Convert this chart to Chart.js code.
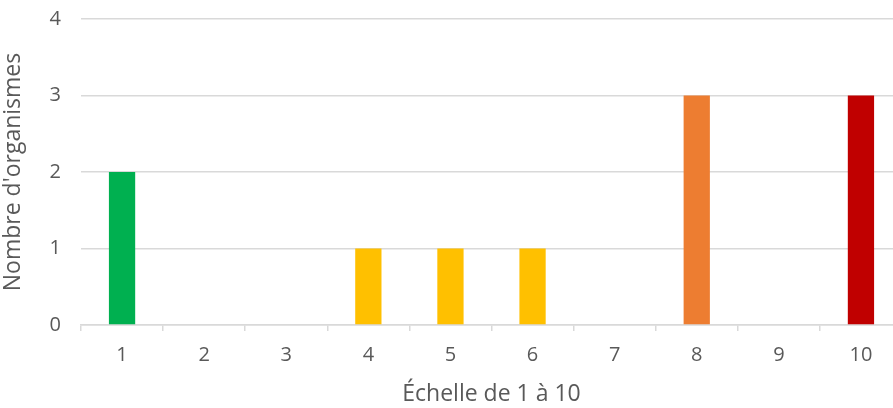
<!DOCTYPE html>
<html>
<head>
<meta charset="utf-8">
<script src="https://cdn.jsdelivr.net/npm/chart.js@4"></script>
<style>
  html, body { margin: 0; padding: 0; background: #fff; overflow: hidden; }
  /* the plot area runs a little past the right edge, as in the reference */
  #wrap { width: 902px; height: 408px; }
</style>
</head>
<body>
<div id="wrap"><canvas id="c"></canvas></div>
<script>
// scale 1..10
const categories = ['1', '2', '3', '4', '5', '6', '7', '8', '9', '10'];
const counts = [2, 0, 0, 1, 1, 1, 0, 3, 0, 3];
const barColors = ['#00B050', '#00B050', '#FFC000', '#FFC000', '#FFC000', '#FFC000', '#FFC000', '#ED7D31', '#C00000', '#C00000'];
const yTicks = [0, 1, 2, 3, 4];

const txt = '#595959';
const gridCol = '#d9d9d9';
const fam = 'Open Sans, Liberation Sans, sans-serif';
const font = { family: fam, size: 20 };
const titleFont = { family: fam, size: 23 };

new Chart(document.getElementById('c'), {
  type: 'bar',
  data: {
    labels: categories,
    datasets: [{
      data: counts,
      backgroundColor: barColors,
      barPercentage: 0.32,
      categoryPercentage: 1
    }]
  },
  options: {
    responsive: true,
    maintainAspectRatio: false,
    animation: false,
    layout: { padding: { top: 19, right: 0, bottom: 0, left: 0 } },
    plugins: { legend: { display: false }, tooltip: { enabled: false } },
    scales: {
      x: {
        offset: true,
        grid: { offset: true, drawOnChartArea: false, drawTicks: true, tickLength: 6, color: gridCol, lineWidth: 1.5 },
        border: { display: true, color: gridCol, width: 1.5 },
        ticks: { color: txt, font: font, padding: 12 },
        title: { display: true, text: 'Échelle de 1 à 10', color: txt, font: titleFont, padding: { top: 5, bottom: 0 } },
        afterFit: s => { s.height = 83; s.paddingLeft = 0; s.paddingRight = 0; }
      },
      y: {
        min: 0,
        max: 4,
        afterBuildTicks: s => { s.ticks = yTicks.map(v => ({ value: v })); },
        grid: { color: gridCol, lineWidth: 1.5, drawTicks: false },
        border: { display: false },
        ticks: { color: txt, font: font, padding: 20 },
        title: { display: true, text: "Nombre d'organismes", color: txt, font: titleFont, padding: { top: 0, bottom: 2 } },
        afterFit: s => { s.width = 81; s.paddingTop = 0; s.paddingBottom = 0; }
      }
    }
  }
});
</script>
</body>
</html>
